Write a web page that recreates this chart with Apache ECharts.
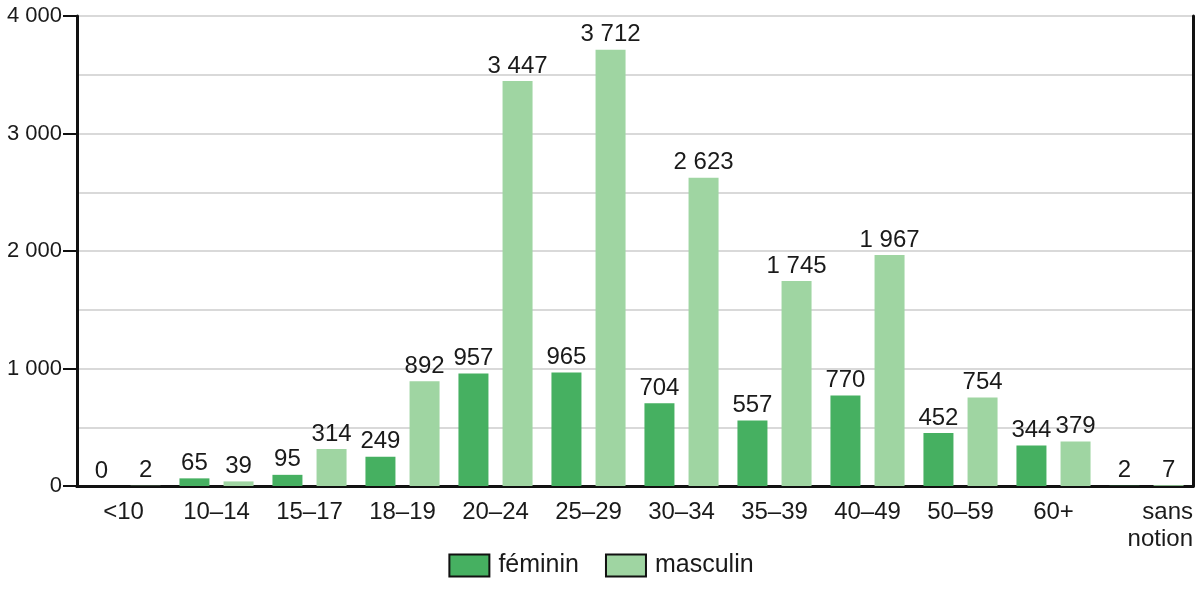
<!DOCTYPE html>
<html>
<head>
<meta charset="utf-8">
<script src="https://cdn.jsdelivr.net/npm/echarts@6/dist/echarts.min.js"></script>
<style>
  html, body { margin: 0; padding: 0; background: #fff; }
  #chart { width: 1202px; height: 611px; }
</style>
</head>
<body>
<div id="chart"></div>
<script>
// tranches d'âge
const categories = ['<10', '10–14', '15–17', '18–19', '20–24', '25–29', '30–34', '35–39', '40–49', '50–59', '60+', 'sans notion'];
const feminin = [0, 65, 95, 249, 957, 965, 704, 557, 770, 452, 344, 2];
const masculin = [2, 39, 314, 892, 3447, 3712, 2623, 1745, 1967, 754, 379, 7];
const yTicks = [0, 1000, 2000, 3000, 4000];

const textColor = '#1a1a1a';
const font = 'Liberation Sans, Arial, sans-serif';

// séparateur de milliers avec espace
function fmt(v) {
    return String(v).replace(/\B(?=(\d{3})+(?!\d))/g, ' ');
}

function barLabel() {
    return {
        show: true,
        position: 'top',
        distance: 3,
        fontSize: 24,
        color: textColor,
        formatter: function(p) { return fmt(p.value); }
    };
}

document.addEventListener('DOMContentLoaded', function() {
    const chart = echarts.init(document.getElementById('chart'));

    const option = {
        animation: false,
        textStyle: { fontFamily: font },
        grid: { left: 77, right: 9, top: 16, bottom: 125 },
        legend: {
            bottom: 28,
            left: 'center',
            itemWidth: 40,
            itemHeight: 22,
            itemGap: 26,
            icon: 'rect',
            itemStyle: { borderColor: '#111', borderWidth: 2 },
            textStyle: { fontSize: 25, color: textColor, fontFamily: font, padding: [0, 0, 0, 4] },
            data: ['féminin', 'masculin']
        },
        xAxis: [
            {
                type: 'category',
                data: categories,
                axisLine: { lineStyle: { color: '#111', width: 3 } },
                axisTick: { show: false },
                axisLabel: {
                    interval: 0,
                    margin: 13,
                    fontSize: 24,
                    color: textColor,
                    lineHeight: 27,
                    formatter: function(v) {
                        if (v === 'sans notion') return '{r|sans}\n{r|notion}';
                        return v;
                    },
                    rich: {
                        r: { width: 93, align: 'right', fontSize: 24, color: textColor, lineHeight: 27 }
                    }
                }
            },
            {
                // bord supérieur du cadre
                type: 'category',
                position: 'top',
                data: categories,
                axisLine: { lineStyle: { color: '#111', width: 3 } },
                axisTick: { show: false },
                axisLabel: { show: false }
            }
        ],
        yAxis: [
            {
                type: 'value',
                min: yTicks[0],
                max: yTicks[yTicks.length - 1],
                interval: 1000,
                axisLine: { show: true, lineStyle: { color: '#111', width: 3 } },
                axisTick: { show: true, length: 14, lineStyle: { color: '#111', width: 2 } },
                axisLabel: {
                    fontSize: 22,
                    color: textColor,
                    margin: 15,
                    formatter: function(v) { return fmt(v); }
                },
                splitLine: { lineStyle: { color: '#d9d9d9', width: 2 } },
                minorTick: { show: false, splitNumber: 2 },
                minorSplitLine: { show: true, lineStyle: { color: '#d9d9d9', width: 2 } }
            },
            {
                // bord droit du cadre
                type: 'value',
                position: 'right',
                min: yTicks[0],
                max: yTicks[yTicks.length - 1],
                interval: 1000,
                axisLine: { show: true, lineStyle: { color: '#111', width: 3 } },
                axisTick: { show: false },
                axisLabel: { show: false },
                splitLine: { show: false }
            }
        ],
        series: [
            {
                name: 'féminin',
                type: 'bar',
                data: feminin,
                barWidth: 30,
                barGap: '47%',
                itemStyle: { color: '#46b061' },
                label: barLabel()
            },
            {
                name: 'masculin',
                type: 'bar',
                data: masculin,
                barWidth: 30,
                itemStyle: { color: '#9fd5a2' },
                label: barLabel()
            }
        ]
    };

    chart.setOption(option);
});
</script>
</body>
</html>
